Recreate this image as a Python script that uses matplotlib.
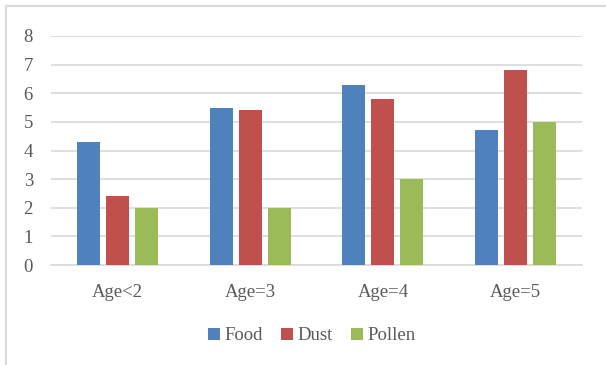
import numpy as np
import matplotlib.pyplot as plt
from matplotlib.patches import Rectangle

# data
categories = ["Age<2", "Age=3", "Age=4", "Age=5"]
food = [4.3, 5.5, 6.3, 4.7]
dust = [2.4, 5.4, 5.8, 6.8]
pollen = [2.0, 2.0, 3.0, 5.0]
series_names = ["Food", "Dust", "Pollen"]

COLORS = ["#4F81BD", "#C0504D", "#9BBB59"]
GRID = "#D9D9D9"
TEXT = "#595959"
FS = 13.5

plt.rcParams["font.family"] = ["Liberation Serif", "DejaVu Serif"]

W, H = 606, 365
fig = plt.figure(figsize=(W / 100, H / 100), dpi=100)

# chart frame (only top and left edges fall inside the canvas)
fig.patches.append(Rectangle((6 / W, -0.1), 1.2, 1 - 6 / H + 0.1,
                             transform=fig.transFigure, fill=False,
                             edgecolor=GRID, linewidth=1.5))

left, right = 51 / W, 582 / W
y0, y8 = 265, 36
ax = fig.add_axes([left, 1 - y0 / H, right - left, (y0 - y8) / H])

x = np.arange(len(categories))
width = 23 / 132.75
step = 29 / 132.75
for i, (vals, name) in enumerate(zip([food, dust, pollen], series_names)):
    ax.bar(x + (i - 1) * step, vals, width=width, color=COLORS[i],
           label=name, zorder=3)

ax.set_xlim(-0.5, len(categories) - 0.5)
ax.set_ylim(0, 8)
ax.set_yticks(range(0, 9))
ax.yaxis.grid(True, color=GRID, linewidth=1.2, zorder=0)
for s in ["top", "right", "left"]:
    ax.spines[s].set_visible(False)
ax.spines["bottom"].set_color(GRID)
ax.spines["bottom"].set_linewidth(1.2)
ax.tick_params(axis="both", length=0, labelsize=FS, colors=TEXT)
ax.tick_params(axis="y", pad=13)
ax.tick_params(axis="x", pad=14)
ax.set_xticks(x)
ax.set_xticklabels(categories)

leg = fig.legend(loc="center", bbox_to_anchor=(312 / W, 1 - 336 / H), ncol=3,
                 frameon=False, fontsize=FS, handlelength=0.6,
                 handleheight=0.6, handletextpad=0.25, columnspacing=1.0)
for t in leg.get_texts():
    t.set_color(TEXT)

fig.savefig("out.png", dpi=100)
